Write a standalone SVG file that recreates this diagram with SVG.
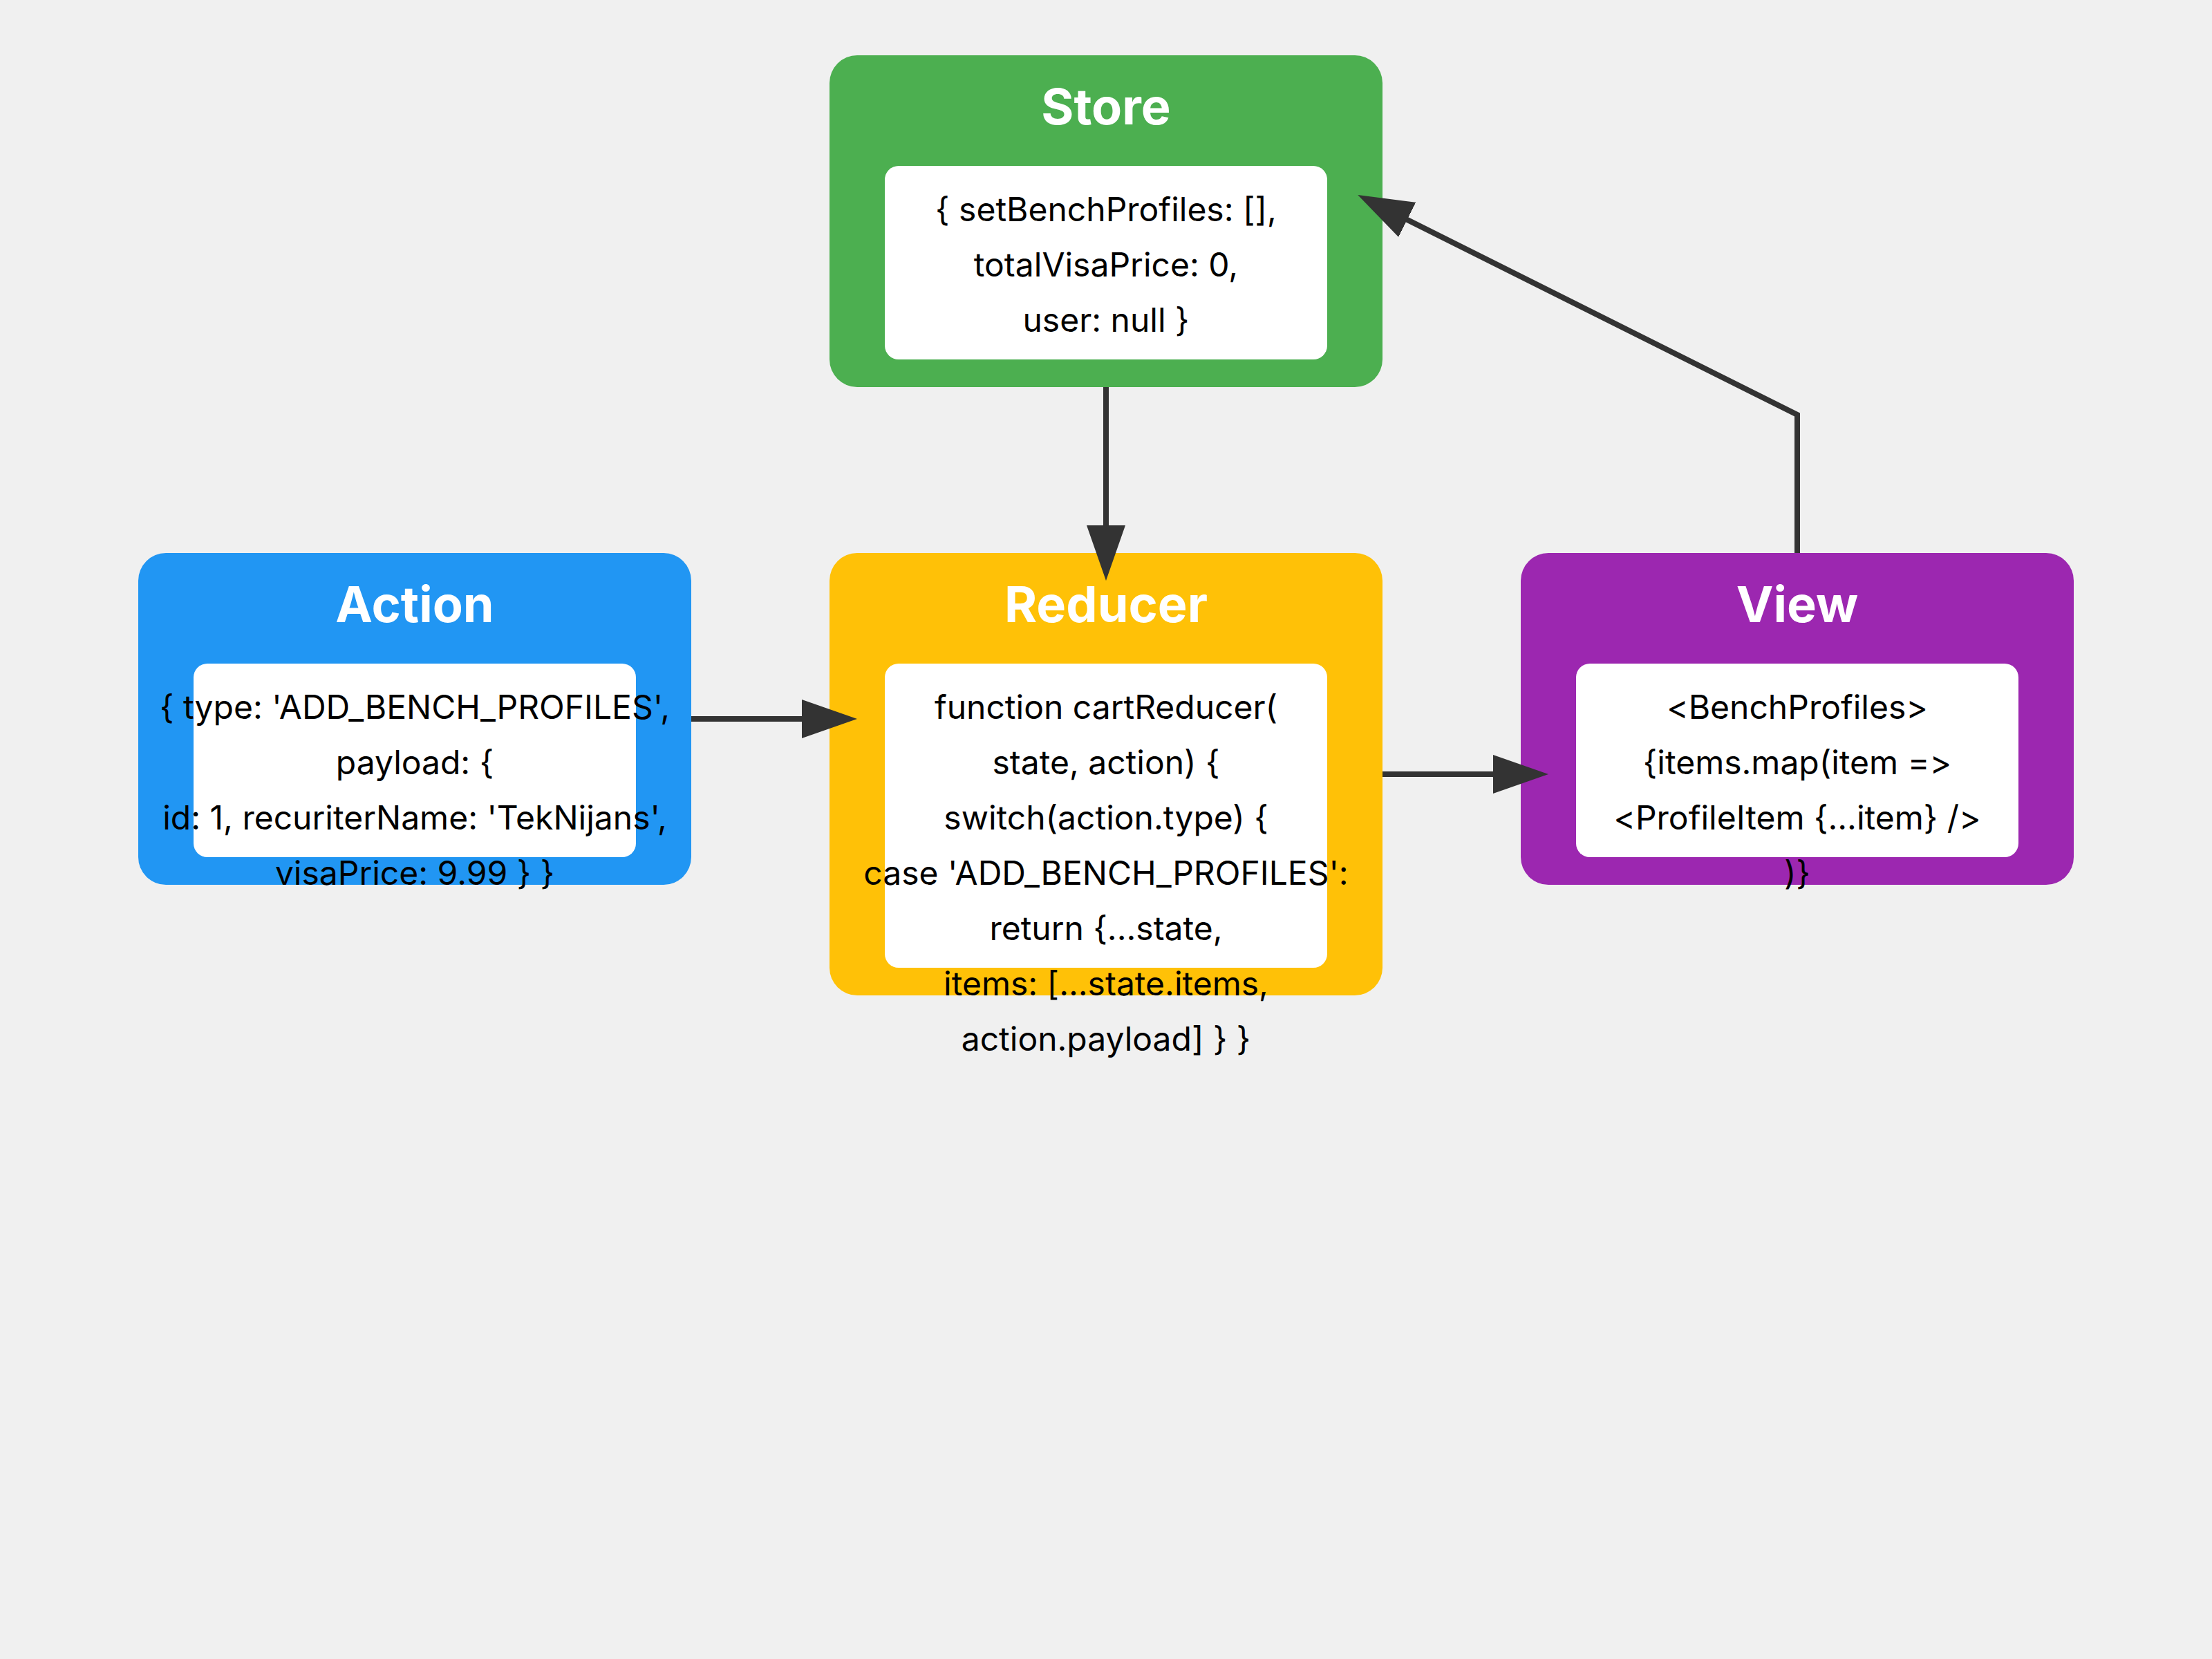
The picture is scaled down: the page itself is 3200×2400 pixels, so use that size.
<svg xmlns="http://www.w3.org/2000/svg" width="3200" height="2400" viewBox="0 0 3200 2400">
  <style>
    .bg { fill: #f0f0f0; }
    .box { rx: 40; ry: 40; }
    .panel { fill: #ffffff; rx: 20; ry: 20; }
    .title { font-family: Inter, "Liberation Sans", sans-serif; font-size: 72px; font-weight: 700; fill: #ffffff; text-anchor: middle; }
    .code { font-family: Inter, "Liberation Sans", sans-serif; font-size: 48px; fill: #000000; text-anchor: middle; font-variant-ligatures: none; font-feature-settings: "calt" 0, "liga" 0; }
    .edge { fill: none; stroke: #333333; stroke-width: 8; marker-end: url(#arrow); }
  </style>
  <defs>
    <marker id="arrow" markerWidth="10" markerHeight="7" refX="5" refY="3.5" orient="auto">
      <path d="M0,0 L10,3.5 L0,7 z" fill="#333333"/>
    </marker>
  </defs>

  <rect class="bg" x="0" y="0" width="3200" height="2400"/>

  <!-- Store -->
  <g id="store">
    <rect class="box" x="1200" y="80" width="800" height="480" fill="#4caf50"/>
    <text class="title" x="1600" y="180">Store</text>
    <rect class="panel" x="1280" y="240" width="640" height="280"/>
    <text class="code" x="1600" y="320">{ setBenchProfiles: [],</text>
    <text class="code" x="1600" y="400">totalVisaPrice: 0,</text>
    <text class="code" x="1600" y="480">user: null }</text>
  </g>

  <!-- Action -->
  <g id="action">
    <rect class="box" x="200" y="800" width="800" height="480" fill="#2196f3"/>
    <text class="title" x="600" y="900">Action</text>
    <rect class="panel" x="280" y="960" width="640" height="280"/>
    <text class="code" x="600" y="1040">{ type: 'ADD_BENCH_PROFILES',</text>
    <text class="code" x="600" y="1120">payload: {</text>
    <text class="code" x="600" y="1200">id: 1, recuriterName: 'TekNijans',</text>
    <text class="code" x="600" y="1280">visaPrice: 9.99 } }</text>
  </g>

  <!-- Reducer -->
  <g id="reducer">
    <rect class="box" x="1200" y="800" width="800" height="640" fill="#ffc107"/>
    <text class="title" x="1600" y="900">Reducer</text>
    <rect class="panel" x="1280" y="960" width="640" height="440"/>
    <text class="code" x="1600" y="1040">function cartReducer(</text>
    <text class="code" x="1600" y="1120">state, action) {</text>
    <text class="code" x="1600" y="1200">switch(action.type) {</text>
    <text class="code" x="1600" y="1280">case 'ADD_BENCH_PROFILES':</text>
    <text class="code" x="1600" y="1360">return {...state,</text>
    <text class="code" x="1600" y="1440">items: [...state.items,</text>
    <text class="code" x="1600" y="1520">action.payload] } }</text>
  </g>

  <!-- View -->
  <g id="view">
    <rect class="box" x="2200" y="800" width="800" height="480" fill="#9c27b0"/>
    <text class="title" x="2600" y="900">View</text>
    <rect class="panel" x="2280" y="960" width="640" height="280"/>
    <text class="code" x="2600" y="1040">&lt;BenchProfiles&gt;</text>
    <text class="code" x="2600" y="1120">{items.map(item =&gt;</text>
    <text class="code" x="2600" y="1200">&lt;ProfileItem {...item} /&gt;</text>
    <text class="code" x="2600" y="1280">)}</text>
  </g>

  <!-- Connectors -->
  <g id="connectors">
    <path class="edge" d="M1000,1040 L1200,1040"/>
    <path class="edge" d="M1600,560 L1600,800"/>
    <path class="edge" d="M2000,1120 L2200,1120"/>
    <path class="edge" d="M2600,800 L2600,600 L2000,300"/>
  </g>
</svg>
